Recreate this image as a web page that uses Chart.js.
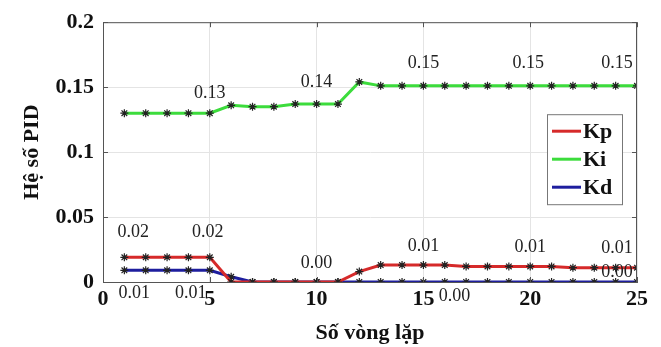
<!DOCTYPE html>
<html>
<head>
<meta charset="utf-8">
<script src="https://cdn.jsdelivr.net/npm/chart.js@4.4.0/dist/chart.umd.min.js"></script>
<style>
  body { margin: 0; background: #fff; }
  #wrap { width: 661px; height: 347px; }
</style>
</head>
<body>
<div id="wrap"><canvas id="mycanvas" width="661" height="347"></canvas></div>
<script>
var iterations = [1,2,3,4,5,6,7,8,9,10,11,12,13,14,15,16,17,18,19,20,21,22,23,24,25];
var kp = [0.019,0.019,0.019,0.019,0.019,0.000,0.000,0.000,0.000,0.000,0.000,0.008,0.013,0.013,0.013,0.013,0.012,0.012,0.012,0.012,0.012,0.011,0.011,0.011,0.011];
var ki = [0.130,0.130,0.130,0.130,0.130,0.136,0.135,0.135,0.137,0.137,0.137,0.154,0.151,0.151,0.151,0.151,0.151,0.151,0.151,0.151,0.151,0.151,0.151,0.151,0.151];
var kd = [0.009,0.009,0.009,0.009,0.009,0.004,0.000,0.000,0.000,0.000,0.000,0.000,0.000,0.000,0.000,0.000,0.000,0.000,0.000,0.000,0.000,0.000,0.000,0.000,0.000];
var seriesNames = ['Kp', 'Ki', 'Kd'];
var xTicks = [0, 5, 10, 15, 20, 25];
var yTicks = [0, 0.05, 0.1, 0.15, 0.2];

// which points get a value label (dataset, iteration), plus nudge in px
var valueLabels = [
  [1, 5, 0, -20], [1, 10, 0, -22], [1, 15, 0, -23], [1, 20, -2, -23], [1, 25, -20, -23],
  [0, 1, 9, -25], [0, 5, -2, -25], [0, 10, 0, -19], [0, 15, 0, -19], [0, 20, 0, -19], [0, 25, -20, -19],
  [2, 1, 10, 23], [2, 5, -19, 23], [2, 15, 31, 14], [2, 25, -20, -10]
];

var colors = ['#d62a2a', '#3cdc3c', '#1e1e9e'];
var allData = [kp, ki, kd];

var datasets = [];
for (var i = 0; i < seriesNames.length; i++) {
  datasets.push({
    label: seriesNames[i],
    data: iterations.map(function(x, j) { return { x: x, y: allData[i][j] }; }),
    borderColor: colors[i],
    backgroundColor: colors[i],
    borderWidth: 3,
    pointStyle: 'star',
    pointRadius: 4,
    pointBorderColor: '#222',
    pointBorderWidth: 1.2,
    tension: 0
  });
}

var extras = {
  id: 'extras',
  afterDatasetsDraw: function(chart) {
    var ctx = chart.ctx;
    var a = chart.chartArea;
    var xs = chart.scales.x, ys = chart.scales.y;
    ctx.save();
    ctx.strokeStyle = '#555';
    ctx.lineWidth = 1;
    ctx.strokeRect(a.left + 0.5, a.top + 0.5, a.right - a.left - 1, a.bottom - a.top);

    // inward tick marks like the original plot
    ctx.beginPath();
    yTicks.forEach(function(v) {
      var p = Math.round(ys.getPixelForValue(v)) + 0.5;
      ctx.moveTo(a.left, p); ctx.lineTo(a.left + 5, p);
      ctx.moveTo(a.right, p); ctx.lineTo(a.right - 5, p);
    });
    xTicks.forEach(function(v) {
      var p = Math.round(xs.getPixelForValue(v)) + 0.5;
      ctx.moveTo(p, a.bottom); ctx.lineTo(p, a.bottom - 5);
      ctx.moveTo(p, a.top); ctx.lineTo(p, a.top + 5);
    });
    ctx.stroke();

    ctx.font = '18px "Liberation Serif"';
    ctx.fillStyle = '#222';
    ctx.textAlign = 'center';
    ctx.textBaseline = 'middle';
    valueLabels.forEach(function(l) {
      var v = allData[l[0]][l[1] - 1];
      ctx.fillText(v.toFixed(2), xs.getPixelForValue(l[1]) + l[2], ys.getPixelForValue(v) + l[3]);
    });

    // legend box
    var bx = a.right - 90, by = a.top + 92, bw = 75, bh = 90;
    ctx.fillStyle = '#fff';
    ctx.fillRect(bx, by, bw, bh);
    ctx.strokeStyle = '#777';
    ctx.lineWidth = 1;
    ctx.strokeRect(bx + 0.5, by + 0.5, bw, bh);
    ctx.font = 'bold 22px "Liberation Serif"';
    ctx.textAlign = 'left';
    for (var k = 0; k < seriesNames.length; k++) {
      var yy = by + 17 + k * 28;
      ctx.strokeStyle = colors[k];
      ctx.lineWidth = 3;
      ctx.beginPath();
      ctx.moveTo(bx + 5, yy);
      ctx.lineTo(bx + 34, yy);
      ctx.stroke();
      ctx.fillStyle = '#111';
      ctx.fillText(seriesNames[k], bx + 36, yy + 1);
    }
    ctx.restore();
  }
};

var ctx = document.getElementById('mycanvas');
var chart = new Chart(ctx, {
  type: 'line',
  data: { datasets: datasets },
  plugins: [extras],
  options: {
    responsive: false,
    animation: false,
    layout: { padding: { top: 18, right: 24, left: 0, bottom: 0 } },
    plugins: { legend: { display: false }, tooltip: { enabled: false } },
    scales: {
      x: {
        type: 'linear', min: 0, max: 25,
        afterBuildTicks: function(s) { s.ticks = xTicks.map(function(v) { return { value: v }; }); },
        afterFit: function(s) { s.height = 65; },
        grid: { color: '#e4e4e4', drawTicks: false },
        border: { color: '#555' },
        ticks: { padding: 4, color: '#111', font: { family: 'Liberation Serif', weight: 'bold', size: 22 }, maxRotation: 0 },
        title: { display: true, text: 'Số vòng lặp', color: '#111', padding: { top: 0, bottom: 0 },
                 font: { family: 'Liberation Serif', weight: 'bold', size: 22 } }
      },
      y: {
        min: 0, max: 0.2,
        afterBuildTicks: function(s) { s.ticks = yTicks.map(function(v) { return { value: v }; }); },
        afterFit: function(s) { s.width = 103; },
        grid: { color: '#e4e4e4', drawTicks: false },
        border: { color: '#555' },
        ticks: { padding: 9, color: '#111', font: { family: 'Liberation Serif', weight: 'bold', size: 22 },
                 callback: function(v) { return String(v); } },
        title: { display: true, text: 'Hệ số PID', color: '#111', padding: { top: 19, bottom: 0 },
                 font: { family: 'Liberation Serif', weight: 'bold', size: 22 } }
      }
    }
  }
});
</script>
</body>
</html>
